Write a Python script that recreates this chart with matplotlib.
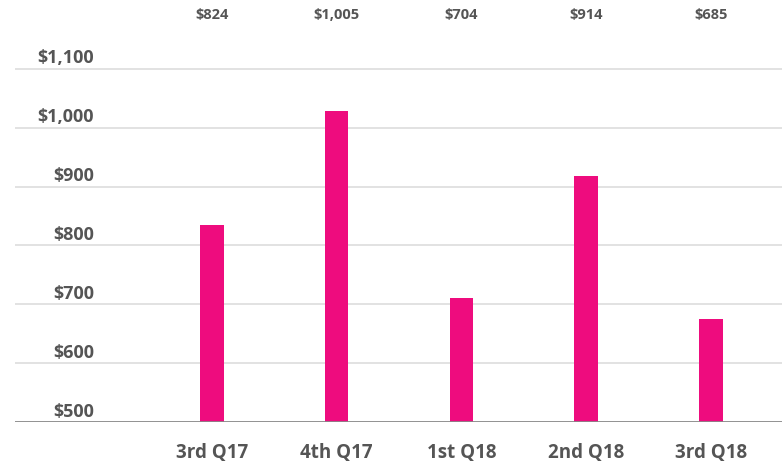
import matplotlib
matplotlib.use('Agg')
from matplotlib import pyplot as plt
from matplotlib import transforms

quarters = ['3rd Q17', '4th Q17', '1st Q18', '2nd Q18', '3rd Q18']
bar_values = [835, 1028, 711, 918, 675]
top_labels = ['$824', '$1,005', '$704', '$914', '$685']
y_ticks = [500, 600, 700, 800, 900, 1000, 1100]
y_tick_labels = ['$500', '$600', '$700', '$800', '$900', '$1,000', '$1,100']

plt.rcParams['font.family'] = ['Open Sans', 'DejaVu Sans']
gray = '#555555'
pink = '#EE0C7E'

fig = plt.figure(figsize=(7.82, 4.65), dpi=100)
ax = fig.add_axes([15 / 782, 43 / 465, 767 / 782, 412 / 465])

x = list(range(len(quarters)))
ax.bar(x, bar_values, width=0.19, bottom=0, color=pink, zorder=3)
ax.set_ylim(500, 1200)
ax.set_xlim(-1.576, 4.568)

for s in ax.spines.values():
    s.set_visible(False)
ax.axhline(500, color='#888888', lw=2, zorder=4)
for v in y_ticks[1:]:
    ax.axhline(v, color='#dddddd', lw=1.2, zorder=1)

ax.set_yticks([])
ax.set_xticks(x)
ax.set_xticklabels(quarters, fontsize=13.5, fontweight='bold', color=gray)
ax.tick_params(axis='x', length=0, pad=15)

trans = transforms.blended_transform_factory(ax.transAxes, ax.transData)
for v, lab in zip(y_ticks, y_tick_labels):
    ax.annotate(lab, xy=(79 / 767, v), xycoords=trans, xytext=(0, 1),
                textcoords='offset points', ha='right', va='bottom',
                fontsize=13, fontweight='bold', color=gray)

for xi, lab in zip(x, top_labels):
    ax.text(xi, 1191, lab, ha='center', va='center', fontsize=10.5,
            fontweight='bold', color=gray, clip_on=False)

fig.savefig('out.png', dpi=100)
